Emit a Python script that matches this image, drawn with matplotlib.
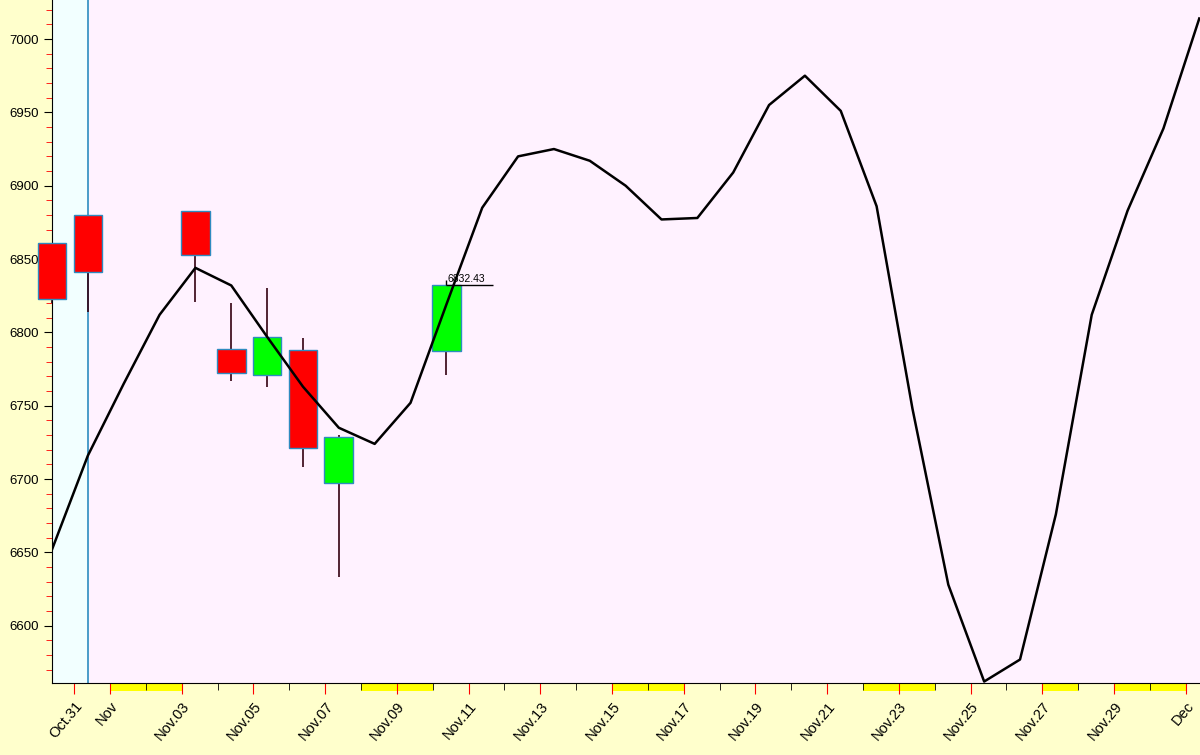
import matplotlib.pyplot as plt
from matplotlib.patches import Rectangle
from matplotlib.ticker import MultipleLocator

plt.rcParams['font.family'] = ['Liberation Sans', 'DejaVu Sans']

# line series (one point per session index)
line_vals = [6652, 6716, 6765, 6812, 6844, 6832, 6797, 6763, 6735, 6724, 6752,
             6819, 6885, 6920, 6925, 6917, 6900, 6877, 6878, 6909, 6955, 6975,
             6951, 6886, 6748, 6628, 6562, 6577, 6676, 6812, 6883, 6939, 7014]

# candles: index, open, close, high, low
c_idx = [0, 1, 4, 5, 6, 7, 8, 11]
c_open = [6861, 6880, 6883, 6789, 6771, 6788, 6697, 6787]
c_close = [6823, 6841, 6853, 6772, 6797, 6721, 6729, 6832.43]
c_high = [6861, 6880, 6883, 6820, 6830, 6796, 6730, 6832.43]
c_low = [6820, 6814, 6821, 6767, 6763, 6708, 6633, 6771]

tick_labels = ['Oct.31', 'Nov', 'Nov.03', 'Nov.05', 'Nov.07', 'Nov.09', 'Nov.11', 'Nov.13',
               'Nov.15', 'Nov.17', 'Nov.19', 'Nov.21', 'Nov.23', 'Nov.25', 'Nov.27', 'Nov.29', 'Dec']
tick_days = [0, 1, 3, 5, 7, 9, 11, 13, 15, 17, 19, 21, 23, 25, 27, 29, 31]
off_days = [(1, 3), (8, 10), (15, 17), (22, 24), (27, 28), (29, 31)]

shift = 0.62  # Oct.31 tick sits at x=0.62

fig = plt.figure(figsize=(12, 7.55), dpi=100, facecolor='#FFFFCC')
ax = fig.add_axes([52/1200, 72/755, 1148/1200, 683/755])
ax.set_facecolor('#FFF2FF')
ax.set_xlim(0, 32.02)

ax.axvspan(0, 1, color='#F2FFFF', zorder=0)
ax.axvline(1, color='#2E8BC0', lw=1.2, zorder=1)

ax.plot(range(len(line_vals)), line_vals, color='black', lw=1.8, zorder=4)

w = 0.8
for i, o, c, h, l in zip(c_idx, c_open, c_close, c_high, c_low):
    col = '#00FF00' if c > o else '#FF0000'
    ax.vlines(i, l, h, color='#330011', lw=1.2, zorder=2, clip_on=False)
    ax.add_patch(Rectangle((i - w/2, min(o, c)), w, abs(c - o), facecolor=col,
                           edgecolor='#2E8BC0', lw=1, zorder=3, clip_on=False))

last = c_close[-1]
ax.hlines(last, 11, 12.3, color='black', lw=1, zorder=5)
ax.vlines(11, last, last + 3.5, color='black', lw=1, zorder=5)
ax.text(11.03, last + 0.5, f'{last:.2f}', fontsize=7.5, va='bottom', ha='left', zorder=5)

# weekend / holiday bands under the axis
for a, b in off_days:
    ax.add_patch(Rectangle((a + shift, 6561 - 5.5), b - a, 5.5, facecolor='#FFFF00',
                           edgecolor='none', clip_on=False, zorder=1))

ax.set_xticks([d + shift for d in tick_days])
ax.set_xticklabels(tick_labels, rotation=50, ha='right', rotation_mode='anchor', fontsize=10.5)
ax.set_xticks([d + shift for d in range(32) if d not in tick_days], minor=True)
ax.tick_params(axis='x', which='major', colors='red', length=8, labelcolor='black')
ax.tick_params(axis='x', which='minor', colors='black', length=5)

ax.yaxis.set_minor_locator(MultipleLocator(10))
ax.set_yticks([6600, 6650, 6700, 6750, 6800, 6850, 6900, 6950, 7000])
ax.tick_params(axis='y', which='major', colors='black', length=6, labelsize=9.5)
ax.tick_params(axis='y', which='minor', colors='red', length=4)
ax.set_ylim(6561, 7026.6)

for s in ['top', 'right']:
    ax.spines[s].set_visible(False)

fig.savefig('out.png', dpi=100, facecolor=fig.get_facecolor())
